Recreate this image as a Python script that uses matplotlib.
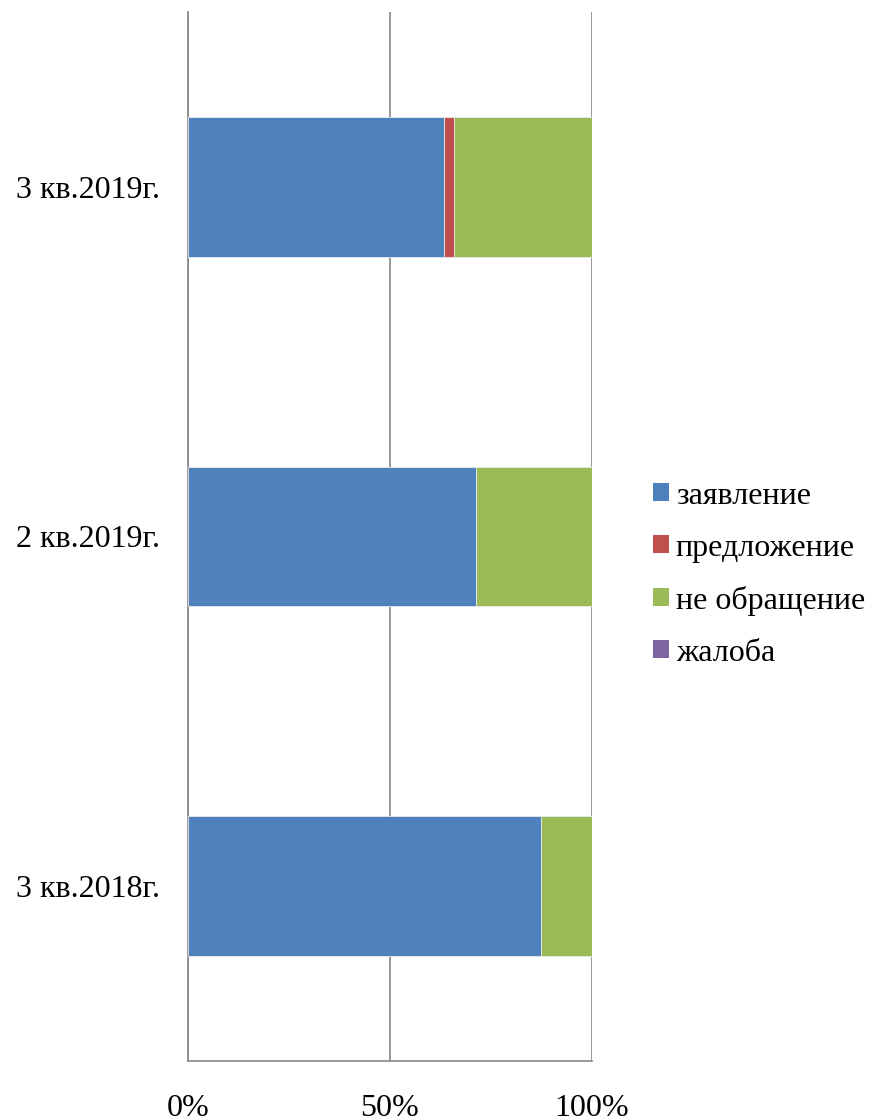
import numpy as np
import matplotlib.pyplot as plt
from matplotlib.patches import Patch

plt.rcParams['font.family'] = ['Liberation Serif', 'DejaVu Serif']

# данные (доли, %)
periods = ['3 кв.2018г.', '2 кв.2019г.', '3 кв.2019г.']
zayavlenie = [87.4, 71.3, 63.4]
predlozhenie = [0.0, 0.0, 2.5]
ne_obrashchenie = [12.6, 28.7, 34.1]
zhaloba = [0.0, 0.0, 0.0]

series = ['заявление', 'предложение', 'не обращение', 'жалоба']
colors = ['#4F81BD', '#C0504D', '#9BBB59', '#8064A2']

fig = plt.figure(figsize=(8.76, 11.2), dpi=100)
ax = fig.add_axes([0.2146, 0.0527, 0.4612, 0.9366])

y = np.arange(len(periods))
left = np.zeros(len(periods))
for vals, c in zip([zayavlenie, predlozhenie, ne_obrashchenie, zhaloba], colors):
    vals = np.array(vals)
    ax.barh(y, vals, left=left, height=0.4, color=c, edgecolor='#e8e8e8',
            linewidth=0.6, zorder=3)
    left = left + vals

ax.set_xlim(0, 100)
ax.set_ylim(-0.5, 2.5)
ax.set_xticks([0, 50, 100])
ax.set_xticklabels(['0%', '50%', '100%'])
ax.set_yticks(y)
ax.set_yticklabels(periods)
ax.tick_params(axis='both', length=0, labelsize=23)
ax.tick_params(axis='x', pad=24)
ax.tick_params(axis='y', pad=20)

ax.grid(axis='x', color='#868686', linewidth=1.2, zorder=0)
for s in ['top', 'right']:
    ax.spines[s].set_visible(False)
for s in ['left', 'bottom']:
    ax.spines[s].set_color('#868686')
    ax.spines[s].set_linewidth(1.2)

handles = [Patch(facecolor=c) for c in colors]
fig.legend(handles, series, loc='center left', bbox_to_anchor=(0.746, 0.487),
           frameon=False, fontsize=23, handlelength=0.5, handleheight=0.5,
           handletextpad=0.2, labelspacing=0.72, borderpad=0, borderaxespad=0)

fig.savefig('out.png', dpi=100)
